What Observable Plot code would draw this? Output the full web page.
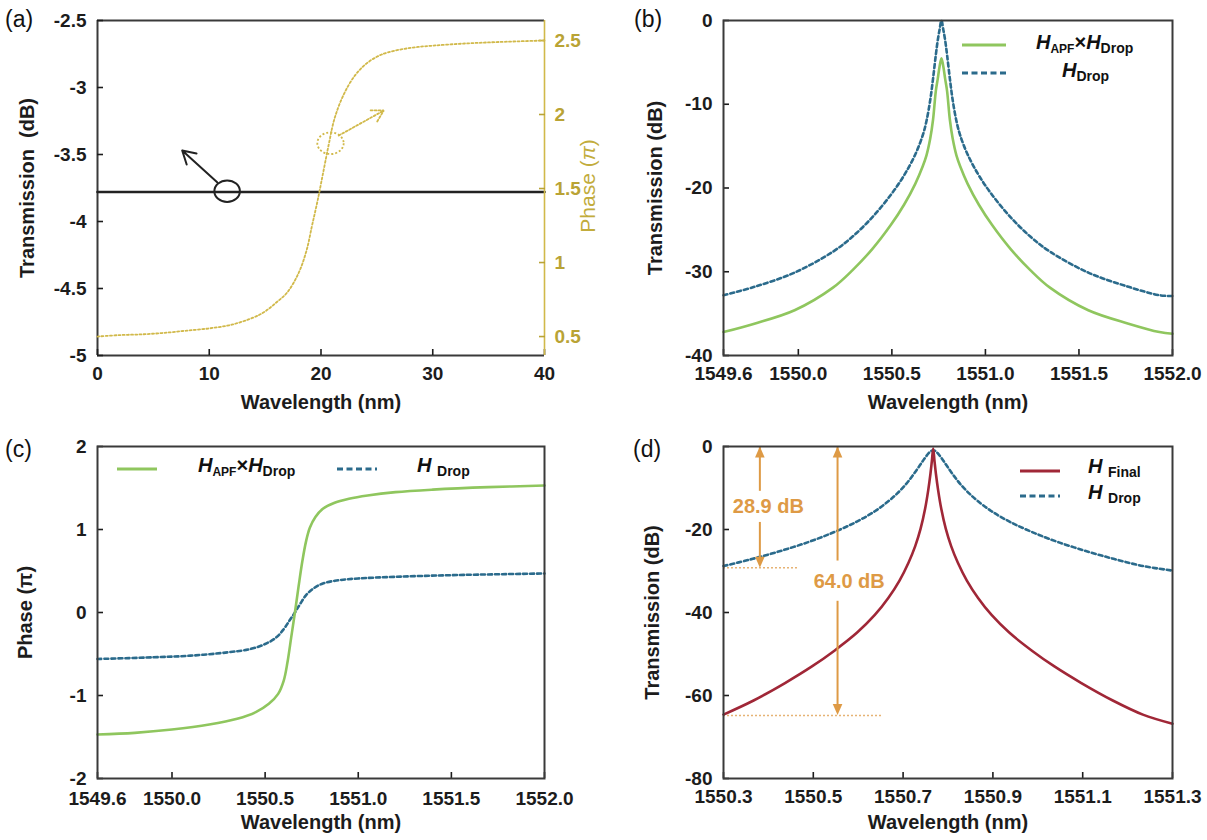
<!DOCTYPE html>
<html><head><meta charset="utf-8">
<script src="https://cdn.jsdelivr.net/npm/d3@7"></script>
<script src="https://cdn.jsdelivr.net/npm/@observablehq/plot@0.6"></script>
<style>
body{margin:0;background:#fff;}
#root{position:relative;width:1207px;height:840px;background:#fff;font-family:"Liberation Sans",Arial,sans-serif;overflow:hidden;}
.panel{position:absolute;}
.plab{position:absolute;font-size:23px;line-height:23px;color:#111;}
.leg{position:absolute;font-weight:bold;color:#111;white-space:nowrap;font-size:20px;line-height:20px;}
.leg i{font-style:italic;}
.leg .s1{font-size:12px;position:relative;top:4px;}
.leg .s2{font-size:14px;position:relative;top:4px;}
.legline{position:absolute;}
.phlab{position:absolute;font-size:21px;color:#c2ac3c;white-space:nowrap;transform:translate(-50%,-50%) rotate(-90deg);}
</style></head>
<body><div id="root"></div>
<script>
// ---------- (a) ----------
const aXTicks = [0, 10, 20, 30, 40];
const aYTicks = [-5, -4.5, -4, -3.5, -3, -2.5];
const aPhaseTicks = [0.5, 1, 1.5, 2, 2.5];
const aWavelength = [0, 40];
const aTransmission = [-3.78, -3.78];
const aPhaseWl = [0, 2, 4, 6, 8, 10, 12, 14, 15, 16, 17, 18, 18.7, 19.2, 19.7, 20.2, 20.7, 21.2, 22, 23, 24, 25, 26, 28, 30, 33, 36, 40];
const aPhase = [0.50, 0.51, 0.515, 0.525, 0.54, 0.555, 0.58, 0.63, 0.67, 0.73, 0.80, 0.93, 1.08, 1.25, 1.42, 1.61, 1.80, 1.97, 2.13, 2.26, 2.34, 2.39, 2.42, 2.45, 2.465, 2.48, 2.49, 2.50];
const aCircleBlack = [{x: 11.6, y: -3.774}];
const aArrowBlack = [{x1: 10.71, y1: -3.707, x2: 7.58, y2: -3.47}];
const aCircleGold = [{x: 20.85, y: 1.806}];
const aArrowGold = [{x1: 21.59, y1: 1.858, x2: 25.62, y2: 2.027}];

// ---------- (b) ----------
const bXTicks = [1549.6, 1550.0, 1550.5, 1551.0, 1551.5, 1552.0];
const bYTicks = [-40, -30, -20, -10, 0];
const bWavelength = [1549.600, 1549.765, 1549.980, 1550.185, 1550.290, 1550.395, 1550.495, 1550.565, 1550.625, 1550.665, 1550.685, 1550.705, 1550.720, 1550.735, 1550.745, 1550.755, 1550.765, 1550.775, 1550.785, 1550.795, 1550.810, 1550.825, 1550.845, 1550.865, 1550.905, 1550.965, 1551.035, 1551.135, 1551.240, 1551.345, 1551.550, 1551.765, 1551.930, 1552.000];
const bDrop = [-32.8, -31.8, -30.1, -27.6, -25.8, -23.5, -20.8, -18.5, -16.0, -13.7, -12.0, -9.5, -6.95, -4.1, -2.4, -1.1, 0, -1.1, -2.4, -4.1, -6.95, -9.5, -12.0, -13.7, -16.0, -18.5, -20.8, -23.5, -25.8, -27.6, -30.1, -31.8, -32.8, -32.9];
const bApfDrop = [-37.2, -36.2, -34.6, -31.9, -29.8, -27.3, -24.4, -22.0, -19.5, -17.4, -16.1, -14.1, -11.85, -8.4, -7.0, -5.5, -4.5, -5.5, -7.0, -8.4, -11.85, -14.1, -16.1, -17.4, -19.5, -22.0, -24.4, -27.3, -29.8, -31.9, -34.6, -36.2, -37.2, -37.4];

// ---------- (c) ----------
const cXTicks = [1549.6, 1550.0, 1550.5, 1551.0, 1551.5, 1552.0];
const cYTicks = [-2, -1, 0, 1, 2];
const cApfWl = [1549.6, 1549.8, 1550.0, 1550.2, 1550.35, 1550.45, 1550.52, 1550.57, 1550.60, 1550.62, 1550.64, 1550.66, 1550.68, 1550.70, 1550.72, 1550.74, 1550.77, 1550.81, 1550.87, 1550.95, 1551.05, 1551.2, 1551.4, 1551.7, 1552.0];
const cApfPhase = [-1.47, -1.45, -1.41, -1.35, -1.28, -1.20, -1.10, -0.98, -0.82, -0.60, -0.30, 0.0, 0.32, 0.62, 0.86, 1.02, 1.15, 1.25, 1.32, 1.37, 1.41, 1.45, 1.48, 1.51, 1.53];
const cDropWl = [1549.6, 1549.9, 1550.1, 1550.3, 1550.42, 1550.50, 1550.56, 1550.60, 1550.63, 1550.66, 1550.69, 1550.72, 1550.76, 1550.81, 1550.90, 1551.0, 1551.2, 1551.5, 1552.0];
const cDropPhase = [-0.56, -0.54, -0.52, -0.48, -0.44, -0.38, -0.30, -0.20, -0.10, 0.0, 0.11, 0.21, 0.29, 0.35, 0.39, 0.41, 0.43, 0.45, 0.47];

// ---------- (d) ----------
const dXTicks = [1550.3, 1550.5, 1550.7, 1550.9, 1551.1, 1551.3];
const dYTicks = [-80, -60, -40, -20, 0];
const dDropWl = [1550.300, 1550.357, 1550.417, 1550.487, 1550.547, 1550.597, 1550.637, 1550.667, 1550.687, 1550.707, 1550.722, 1550.737, 1550.747, 1550.757, 1550.762, 1550.767, 1550.772, 1550.777, 1550.787, 1550.797, 1550.812, 1550.827, 1550.847, 1550.867, 1550.897, 1550.937, 1550.987, 1551.047, 1551.117, 1551.177, 1551.234, 1551.300];
const dDrop = [-28.8, -27.3, -25.5, -23.1, -20.6, -18.1, -15.6, -13.2, -11.3, -9.0, -6.9, -4.6, -3.0, -1.6, -1.1, -0.9, -1.1, -1.6, -3.0, -4.6, -6.9, -9.0, -11.3, -13.2, -15.6, -18.1, -20.6, -23.1, -25.5, -27.3, -28.8, -29.9];
const dFinalWl = [1550.300, 1550.367, 1550.437, 1550.497, 1550.547, 1550.597, 1550.637, 1550.667, 1550.692, 1550.712, 1550.727, 1550.739, 1550.749, 1550.756, 1550.761, 1550.764, 1550.767, 1550.770, 1550.773, 1550.778, 1550.785, 1550.795, 1550.807, 1550.822, 1550.842, 1550.867, 1550.897, 1550.937, 1550.987, 1551.037, 1551.097, 1551.167, 1551.234, 1551.300];
const dFinal = [-64.6, -61.2, -57.0, -53.0, -49.2, -44.9, -40.6, -36.5, -32.3, -28.0, -24.0, -19.8, -15.0, -10.5, -6.5, -3.6, -0.5, -3.6, -6.5, -10.5, -15.0, -19.8, -24.0, -28.0, -32.3, -36.5, -40.6, -44.9, -49.2, -53.0, -57.0, -61.2, -64.6, -66.8];
const dShafts = [
  {x: 1550.381, y1: 0, y2: -10.8}, {x: 1550.381, y1: -18.3, y2: -28.5},
  {x: 1550.554, y1: 0, y2: -27.6}, {x: 1550.554, y1: -37.3, y2: -64.0}
];
const dHeadsUp = [{x: 1550.381, y: 0}, {x: 1550.554, y: 0}];
const dHeadsDown = [{x: 1550.381, y: -29.2}, {x: 1550.554, y: -64.7}];
const dGuides = [{y: -29.2, x1: 1550.30, x2: 1550.465}, {y: -64.8, x1: 1550.30, x2: 1550.652}];
const dLabels = [{x: 1550.40, y: -14.4, t: "28.9 dB"}, {x: 1550.58, y: -32.5, t: "64.0 dB"}];

// ---------- styling ----------
const FONT = '"Liberation Sans", Arial, Helvetica, sans-serif';
const INK = "#1c1c1c";
const FRAME = "#3a3a3a";
const GREEN = "#8fc65e";
const BLUE = "#2b6b8c";
const RED = "#a02737";
const ORANGE = "#de9a45";
const GOLD = "#d1b94a";
const GOLDTXT = "#b9a335";
const baseStyle = {fontFamily: FONT, background: "transparent", color: INK, overflow: "visible"};
const f1 = d3.format(".1f");
const plain = d => String(d);
const CURVE = "catmull-rom";

const rows = (xs, ys) => xs.map((x, i) => ({x, y: ys[i]}));

function ellipseSymbol(ratio) {
  return {draw(ctx, size) {
    const r = Math.sqrt(size / Math.PI), rx = r * ratio, ry = r, k = 0.5523;
    ctx.moveTo(rx, 0);
    ctx.bezierCurveTo(rx, ry * k, rx * k, ry, 0, ry);
    ctx.bezierCurveTo(-rx * k, ry, -rx, ry * k, -rx, 0);
    ctx.bezierCurveTo(-rx, -ry * k, -rx * k, -ry, 0, -ry);
    ctx.bezierCurveTo(rx * k, -ry, rx, -ry * k, rx, 0);
    ctx.closePath();
  }};
}
const headUp = {draw(ctx) { ctx.moveTo(0, 0); ctx.lineTo(-4.8, 11); ctx.lineTo(4.8, 11); ctx.closePath(); }};
const headDown = {draw(ctx) { ctx.moveTo(0, 0); ctx.lineTo(-4.8, -11); ctx.lineTo(4.8, -11); ctx.closePath(); }};

function xAxis(ticks, fmt, pad = 17) {
  return Plot.axisX(ticks, {anchor: "bottom", tickSize: -6, tickPadding: pad, tickFormat: fmt, fontSize: 19, fontWeight: "bold", strokeWidth: 1.6, label: null});
}
function yAxis(ticks, fmt) {
  return Plot.axisY(ticks, {anchor: "left", tickSize: -6, tickPadding: 17, tickFormat: fmt, fontSize: 19, fontWeight: "bold", strokeWidth: 1.6, label: null});
}
function xTitle(dy) {
  return Plot.text(["Wavelength (nm)"], {text: d => d, frameAnchor: "bottom", textAnchor: "middle", dy, fontSize: 20, fontWeight: "bold", fill: INK});
}
function yTitle(t, dx) {
  return Plot.text([t], {text: d => d, frameAnchor: "left", textAnchor: "middle", lineAnchor: "middle", dx, rotate: -90, fontSize: 20, fontWeight: "bold", fill: INK});
}

const root = document.getElementById("root");
function place(el, left, top) {
  el.classList.add("panel");
  el.style.left = left + "px"; el.style.top = top + "px";
  root.appendChild(el);
}
function html(cls, left, top, inner) {
  const d = document.createElement("div");
  d.className = cls; d.style.left = left + "px"; d.style.top = top + "px"; d.innerHTML = inner;
  root.appendChild(d);
}
function legLine(left, cy, w, color, dash) {
  html("legline", left, cy - 5,
    `<svg width="${w}" height="10"><line x1="0" x2="${w}" y1="5" y2="5" stroke="${color}" stroke-width="3.2" ${dash ? `stroke-dasharray="${dash}"` : ""}/></svg>`);
}

// ---------- panel (a) ----------
const aMargins = {width: 600, height: 420, marginLeft: 97, marginRight: 56, marginTop: 20, marginBottom: 65};
const plotA = Plot.plot({
  ...aMargins,
  x: {domain: [0, 40], axis: null},
  y: {domain: [-5, -2.5], axis: null},
  style: baseStyle,
  marks: [
    Plot.ruleX([0], {stroke: FRAME, strokeWidth: 2}),
    Plot.ruleY([-2.5], {stroke: FRAME, strokeWidth: 2}),
    Plot.ruleY([-5], {stroke: FRAME, strokeWidth: 2}),
    xAxis(aXTicks, plain),
    yAxis(aYTicks, plain),
    Plot.line(rows(aWavelength, aTransmission), {x: "x", y: "y", stroke: "#222", strokeWidth: 2.6}),
    Plot.dot(aCircleBlack, {x: "x", y: "y", r: 10.8, symbol: ellipseSymbol(1.18), stroke: "#222", strokeWidth: 2, fill: "none"}),
    Plot.arrow(aArrowBlack, {x1: "x1", y1: "y1", x2: "x2", y2: "y2", stroke: "#222", strokeWidth: 2, headLength: 11}),
    xTitle(53),
    yTitle("Transmission  (dB)", -70)
  ]
});
place(plotA, 0, 0);

const plotA2 = Plot.plot({
  ...aMargins,
  x: {domain: [0, 40], axis: null},
  y: {domain: [0.372, 2.635], axis: null},
  style: baseStyle,
  marks: [
    Plot.ruleX([40], {stroke: GOLD, strokeWidth: 1.6}),
    Plot.axisY(aPhaseTicks, {anchor: "right", tickSize: -6, tickPadding: 16, tickFormat: plain, fontSize: 19, fontWeight: "bold", color: GOLDTXT, strokeWidth: 1.6, label: null}),
    Plot.line(rows(aPhaseWl, aPhase), {x: "x", y: "y", stroke: GOLD, strokeWidth: 1.8, strokeDasharray: "2,2.2", curve: CURVE}),
    Plot.dot(aCircleGold, {x: "x", y: "y", r: 10.8, symbol: ellipseSymbol(1.22), stroke: GOLD, strokeWidth: 1.8, strokeDasharray: "2,2", fill: "none"}),
    Plot.arrow(aArrowGold, {x1: "x1", y1: "y1", x2: "x2", y2: "y2", stroke: GOLD, strokeWidth: 1.8, strokeDasharray: "2,2", headLength: 11})
  ]
});
place(plotA2, 0, 0);
html("phlab", 588, 186, "Phase (<i>π</i>)");

// ---------- panel (b) ----------
const plotB = Plot.plot({
  width: 607, height: 420, marginLeft: 123, marginRight: 35, marginTop: 20, marginBottom: 65,
  x: {domain: [1549.6, 1552.0], axis: null},
  y: {domain: [-40, 0], axis: null},
  style: baseStyle,
  marks: [
    xAxis(bXTicks, f1),
    yAxis(bYTicks, plain),
    Plot.line(rows(bWavelength, bApfDrop), {x: "x", y: "y", stroke: GREEN, strokeWidth: 2.6, curve: CURVE}),
    Plot.line(rows(bWavelength, bDrop), {x: "x", y: "y", stroke: BLUE, strokeWidth: 2.6, strokeDasharray: "4,3", curve: CURVE}),
    Plot.frame({stroke: FRAME, strokeWidth: 2}),
    xTitle(53),
    yTitle("Transmission (dB)", -68)
  ]
});
place(plotB, 600, 0);

// ---------- panel (c) ----------
const plotC = Plot.plot({
  width: 600, height: 420, marginLeft: 97, marginRight: 56, marginTop: 26, marginBottom: 62,
  x: {domain: [1549.6, 1552.0], axis: null},
  y: {domain: [-2, 2], axis: null},
  style: baseStyle,
  marks: [
    xAxis(cXTicks, f1, 19),
    yAxis(cYTicks, plain),
    Plot.line(rows(cDropWl, cDropPhase), {x: "x", y: "y", stroke: BLUE, strokeWidth: 2.6, strokeDasharray: "4,3", curve: CURVE}),
    Plot.line(rows(cApfWl, cApfPhase), {x: "x", y: "y", stroke: GREEN, strokeWidth: 2.6, curve: CURVE}),
    Plot.frame({stroke: FRAME, strokeWidth: 2}),
    xTitle(50),
    yTitle("Phase (π)", -72)
  ]
});
place(plotC, 0, 420);

// ---------- panel (d) ----------
const plotD = Plot.plot({
  width: 607, height: 420, marginLeft: 123, marginRight: 35, marginTop: 26, marginBottom: 62,
  x: {domain: [1550.3, 1551.3], axis: null},
  y: {domain: [-80, 0], axis: null},
  style: baseStyle,
  marks: [
    xAxis(dXTicks, f1),
    yAxis(dYTicks, plain),
    Plot.ruleY(dGuides, {y: "y", x1: "x1", x2: "x2", stroke: ORANGE, strokeOpacity: 0.75, strokeWidth: 1.5, strokeDasharray: "2,2"}),
    Plot.line(rows(dDropWl, dDrop), {x: "x", y: "y", stroke: BLUE, strokeWidth: 2.6, strokeDasharray: "4,3", curve: CURVE}),
    Plot.line(rows(dFinalWl, dFinal), {x: "x", y: "y", stroke: RED, strokeWidth: 2.6, curve: CURVE}),
    Plot.ruleX(dShafts, {x: "x", y1: "y1", y2: "y2", stroke: ORANGE, strokeWidth: 2}),
    Plot.dot(dHeadsUp, {x: "x", y: "y", r: 5, symbol: headUp, fill: ORANGE, stroke: "none"}),
    Plot.dot(dHeadsDown, {x: "x", y: "y", r: 5, symbol: headDown, fill: ORANGE, stroke: "none"}),
    Plot.text(dLabels, {x: "x", y: "y", text: "t", fill: ORANGE, fontSize: 20, fontWeight: "bold"}),
    Plot.frame({stroke: FRAME, strokeWidth: 2}),
    xTitle(50),
    yTitle("Transmission (dB)", -71)
  ]
});
place(plotD, 600, 420);

// ---------- panel letters ----------
html("plab", 5, 8, "(a)");
html("plab", 634, 8, "(b)");
html("plab", 5, 438, "(c)");
html("plab", 633, 438, "(d)");

// ---------- legends ----------
legLine(962, 41, 44, GREEN, null);
html("leg", 1036, 32, '<i>H</i><span class="s1">APF</span>×<i>H</i><span class="s2">Drop</span>');
legLine(962, 69, 44, BLUE, "6,3.5");
html("leg", 1062, 60, '<i>H</i><span class="s2">Drop</span>');

legLine(117, 465, 40, GREEN, null);
html("leg", 198, 455, '<i>H</i><span class="s1">APF</span>×<i>H</i><span class="s2">Drop</span>');
legLine(337, 465, 40, BLUE, "6,3.5");
html("leg", 417, 455, '<i>H</i> <span class="s2">Drop</span>');

legLine(1020, 467, 40, RED, null);
html("leg", 1088, 456, '<i>H</i> <span class="s2">Final</span>');
legLine(1020, 492, 40, BLUE, "6,3.5");
html("leg", 1088, 482, '<i>H</i> <span class="s2">Drop</span>');
</script>
</body></html>
